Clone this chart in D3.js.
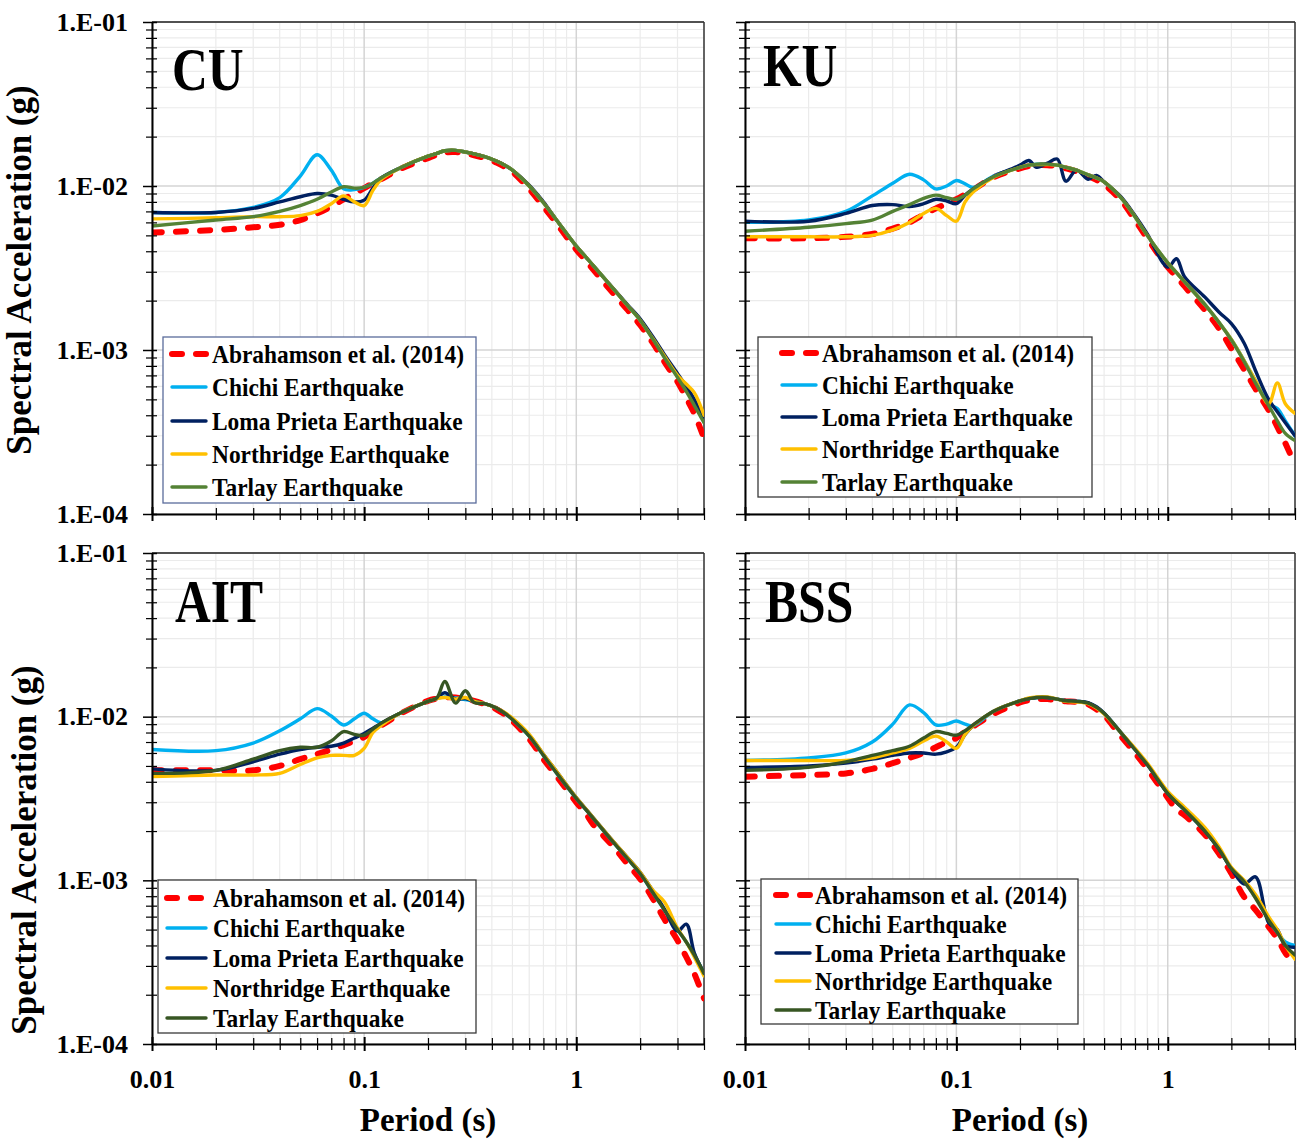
<!DOCTYPE html>
<html><head><meta charset="utf-8">
<script src="https://cdn.jsdelivr.net/npm/d3@7"></script>
<style>
body{margin:0;background:#fff}
svg{display:block}
text{font-family:"Liberation Serif","Times New Roman",serif;font-weight:bold;fill:#000}
</style>
</head><body>
<svg id="chart" width="1301" height="1140"></svg>
<script>
// ---------- DATA ----------
const periods = [0.01,0.02,0.03,0.04,0.05,0.06,0.07,0.08,0.09,0.1,
  0.11,0.12,0.15,0.2,0.22,0.24,0.27,0.3,0.33,0.37,
  0.42,0.46,0.5,0.6,0.7,0.8,1.0,1.1,1.2,1.5,
  1.75,2.0,2.3,2.6,3.0,3.3,3.6,4.0];

const seriesNames = ["Abrahamson et al. (2014)","Chichi Earthquake","Loma Prieta Earthquake","Northridge Earthquake","Tarlay Earthquake"];
const panelNames = ["CU","KU","AIT","BSS"];
const xTickValues = [0.01,0.1,1];
const xTickLabels = ["0.01","0.1","1"];
const yTickValues = [1e-4,1e-3,1e-2,1e-1];
const yTickLabels = ["1.E-04","1.E-03","1.E-02","1.E-01"];
const xMinorValues = [0.02,0.03,0.04,0.05,0.06,0.07,0.08,0.09,0.2,0.3,0.4,0.5,0.6,0.7,0.8,0.9,2,3,4];
const yMinorValues = [2e-4,3e-4,4e-4,5e-4,6e-4,7e-4,8e-4,9e-4,2e-3,3e-3,4e-3,5e-3,6e-3,7e-3,8e-3,9e-3,2e-2,3e-2,4e-2,5e-2,6e-2,7e-2,8e-2,9e-2];
const xAxisTitle = "Period (s)";
const yAxisTitle = "Spectral Acceleration (g)";

// CU
const cuAbrahamson = [.0052,.0054,.0056,.0058,.0062,.0068,.0075,.0083,.0090,.0097,
  .0104,.0110,.0128,.0148,.0155,.0160,.0161,.0158,.0154,.0148,
  .0139,.0131,.0122,.0096,.0075,.0060,.0041,.00355,.0031,.0022,
  .00175,.00142,.0011,.00085,.00064,.00051,.00041,.00029];
const cuChichi = [.0069,.0069,.0074,.0085,.0115,.0155,.0125,.0096,.0095,.0098,
  .0104,.0112,.0130,.0152,.0158,.0164,.0165,.0161,.0157,.0151,
  .0142,.0134,.0125,.0100,.0079,.0063,.0043,.00374,.00328,.00235,
  .00186,.00152,.00117,.00092,.0007,.00057,.00048,.00038];
const cuLoma = [.0069,.0069,.0073,.0080,.0086,.0090,.0088,.0083,.0080,.0082,
  .0097,.0111,.0130,.0152,.0158,.0164,.0165,.0161,.0157,.0151,
  .0142,.0134,.0125,.0101,.0080,.0063,.0043,.00374,.00328,.00236,
  .00188,.00155,.0012,.00094,.00072,.0006,.0005,.00037];
const cuNorthridge = [.0063,.0064,.0065,.0065,.0066,.0070,.0078,.0087,.0080,.0076,
  .0094,.0109,.0130,.0152,.0158,.0164,.0165,.0161,.0157,.0151,
  .0142,.0134,.0125,.0100,.0079,.0063,.0043,.00374,.00328,.00235,
  .00186,.00152,.00117,.00092,.0007,.00062,.00055,.0004];
const cuTarlay = [.0057,.0062,.0065,.0070,.0076,.0083,.0092,.0099,.0097,.0098,
  .0104,.0112,.0130,.0152,.0158,.0164,.0165,.0161,.0157,.0151,
  .0142,.0134,.0125,.0100,.0079,.0063,.0043,.00374,.00328,.00235,
  .00186,.00152,.00116,.0009,.00068,.00056,.00046,.00036];

// KU
const kuAbrahamson = [.0048,.0048,.0049,.0051,.0055,.0060,.0067,.0073,.0078,.0083,
  .0089,.0095,.0113,.0128,.0132,.0134,.0134,.0132,.0128,.0123,
  .0115,.0109,.0102,.0082,.0062,.0048,.0032,.0028,.00245,.00175,
  .00135,.00102,.00076,.00058,.00043,.00034,.00027,.00020];
const kuChichi = [.0060,.0062,.0070,.0087,.0104,.0118,.0109,.0096,.0100,.0108,
  .0103,.0098,.0115,.0130,.0134,.0136,.0136,.0134,.0130,.0125,
  .0117,.0112,.0106,.0085,.0065,.0050,.0034,.00296,.00261,.00189,
  .00147,.00116,.00086,.00065,.00047,.00044,.00037,.0003];
const kuLoma = [.0061,.0061,.0068,.0076,.0077,.0075,.0078,.0083,.0081,.0078,
  .0088,.0096,.0114,.0134,.0143,.0130,.0138,.0146,.0107,.0125,
  .0110,.0116,.0106,.0086,.0066,.0051,.0032,.0036,.0028,.0021,
  .0017,.00145,.0011,.00075,.0005,.00042,.00036,.0003];
const kuNorthridge = [.0049,.0049,.0049,.0050,.0054,.0060,.0068,.0073,.0066,.0061,
  .0080,.0092,.0113,.0130,.0134,.0135,.0135,.0134,.0130,.0125,
  .0117,.0112,.0106,.0085,.0065,.0050,.0034,.00296,.00261,.00189,
  .00147,.00116,.00086,.00065,.00047,.00063,.00047,.00041];
const kuTarlay = [.0053,.0056,.0059,.0062,.0070,.0077,.0084,.0088,.0085,.0083,
  .0088,.0096,.0114,.0130,.0134,.0136,.0136,.0134,.0130,.0125,
  .0117,.0112,.0106,.0085,.0065,.0050,.0034,.00296,.00261,.00189,
  .00147,.00115,.00085,.00063,.00046,.00037,.00031,.00028];

// AIT
const aitAbrahamson = [.0047,.0047,.0047,.0050,.0055,.0059,.0063,.0067,.0071,.0075,
  .0082,.0088,.0105,.0125,.0129,.0131,.0131,.0128,.0125,.0119,
  .0111,.0103,.0094,.0073,.0055,.0044,.0030,.0026,.0022,.0016,
  .00125,.00102,.00077,.00058,.00043,.00034,.00027,.00019];
const aitChichi = [.0063,.0062,.0069,.0082,.0097,.0112,.0101,.0089,.0097,.0105,
  .0097,.0092,.0106,.0124,.0129,.0132,.0130,.0127,.0124,.0120,
  .0113,.0105,.0096,.0076,.0058,.0046,.00317,.00274,.0024,.0017,
  .00135,.0011,.00084,.00066,.0005,.00042,.00035,.00027];
const aitLoma = [.0048,.0047,.0053,.0059,.0063,.0065,.0066,.0069,.0074,.0079,
  .0085,.0091,.0106,.0124,.0130,.0140,.0128,.0129,.0124,.0120,
  .0113,.0105,.0097,.0077,.0059,.0047,.0032,.00276,.00242,.00172,
  .00137,.00112,.00086,.00067,.00049,.00054,.00036,.00027];
const aitNorthridge = [.0043,.0044,.0044,.0045,.0051,.0056,.0058,.0058,.0058,.0064,
  .0080,.0088,.0106,.0124,.0129,.0131,.0128,.0131,.0124,.0120,
  .0113,.0106,.0098,.0078,.0059,.0047,.0032,.00276,.00242,.00172,
  .00137,.00112,.00087,.00074,.00051,.00042,.00034,.00026];
const aitTarlay = [.0045,.0047,.0055,.0062,.0065,.0065,.0071,.0081,.0078,.0077,
  .0084,.0091,.0106,.0124,.0130,.0164,.0121,.0144,.0122,.0120,
  .0113,.0105,.0096,.0076,.0058,.0046,.00317,.00274,.0024,.0017,
  .00135,.0011,.00084,.00066,.0005,.00042,.00035,.00027];

// BSS
const bssAbrahamson = [.0043,.0044,.0045,.0048,.0052,.0056,.0060,.0065,.0070,.0074,
  .0081,.0087,.0104,.0122,.0126,.0128,.0128,.0126,.0124,.0123,
  .0119,.0111,.0102,.0076,.0060,.0048,.0032,.0027,.0025,.0019,
  .00145,.0011,.00079,.00066,.00052,.00044,.00036,.0003];
const bssChichi = [.0054,.0056,.0060,.0070,.0090,.0118,.0106,.0089,.0090,.0094,
  .0090,.0088,.0108,.0125,.0129,.0131,.0131,.0128,.0125,.0124,
  .0121,.0114,.0105,.0080,.0063,.0051,.0034,.0030,.0027,.0020,
  .00155,.00118,.00098,.0008,.00057,.00048,.00042,.0004];
const bssLoma = [.0049,.0050,.0052,.0055,.0058,.0060,.0060,.0059,.0061,.0065,
  .0078,.0088,.0108,.0125,.0129,.0131,.0131,.0128,.0125,.0124,
  .0122,.0115,.0105,.0080,.0063,.0051,.0034,.0030,.0027,.0020,
  .00155,.00118,.00095,.00105,.00055,.0005,.0004,.00039];
const bssNorthridge = [.0054,.0054,.0054,.0056,.0060,.0064,.0071,.0076,.0070,.0064,
  .0078,.0088,.0108,.0125,.0130,.0132,.0132,.0128,.0124,.0123,
  .0120,.0113,.0104,.0080,.0064,.0052,.0035,.0031,.0028,.0021,
  .0016,.0012,.001,.00082,.0006,.0005,.0004,.00033];
const bssTarlay = [.0047,.0049,.0053,.0058,.0062,.0066,.0074,.0081,.0079,.0077,
  .0082,.0089,.0108,.0125,.0129,.0131,.0131,.0128,.0125,.0124,
  .0121,.0114,.0105,.0080,.0063,.0051,.0034,.0030,.0027,.0020,
  .00155,.00118,.00098,.00078,.00057,.00048,.0004,.00035];

const panelSeries = [
  [cuAbrahamson, cuChichi, cuLoma, cuNorthridge, cuTarlay],
  [kuAbrahamson, kuChichi, kuLoma, kuNorthridge, kuTarlay],
  [aitAbrahamson, aitChichi, aitLoma, aitNorthridge, aitTarlay],
  [bssAbrahamson, bssChichi, bssLoma, bssNorthridge, bssTarlay]
];

// ---------- STYLE / LAYOUT ----------
const baseColors = ["#FF0000","#00B0F0","#002060","#FFC000"];
const tarlayColors = ["#548235","#548235","#375623","#375623"];

const layouts = [
  {left:152,right:704,top:22,bottom:514, xLab:false,yLab:true, lab:[172,90],
   leg:{x:163,y:337,w:313,h:166,stroke:"#5A6C9B",l1:172,l2:206,tx:212,rows:[354,387,421,454,487]}},
  {left:745,right:1295,top:22,bottom:514, xLab:false,yLab:false, lab:[763,86],
   leg:{x:758,y:337,w:334,h:160,stroke:"#3a3a3a",l1:782,l2:816,tx:822,rows:[353,385,417,449,482]}},
  {left:152,right:704,top:553,bottom:1044, xLab:true,yLab:true, lab:[175,622],
   leg:{x:158,y:880,w:318,h:153,stroke:"#3a3a3a",l1:167,l2:206,tx:213,rows:[898,928,958,988,1018]}},
  {left:745,right:1295,top:553,bottom:1044, xLab:true,yLab:false, lab:[765,622],
   leg:{x:761,y:879,w:317,h:145,stroke:"#3a3a3a",l1:776,l2:810,tx:815,rows:[895,924,953,981,1010]}}
];

const svg = d3.select("#chart");

layouts.forEach((L, pi) => {
  const x = d3.scaleLog().domain([0.01, 4]).range([L.left, L.right]);
  const y = d3.scaleLog().domain([1e-4, 1e-1]).range([L.bottom, L.top]);
  const g = svg.append("g");
  const colors = baseColors.concat([tarlayColors[pi]]);

  const clipId = "clip" + pi;
  svg.append("clipPath").attr("id", clipId).append("rect")
    .attr("x", L.left).attr("y", L.top).attr("width", L.right - L.left).attr("height", L.bottom - L.top);

  // grid
  const grid = g.append("g");
  grid.selectAll(".vmin").data(xMinorValues).join("line")
    .attr("x1", d => x(d)).attr("x2", d => x(d)).attr("y1", L.top).attr("y2", L.bottom)
    .attr("stroke", "#ebebeb").attr("stroke-width", 1.2);
  grid.selectAll(".hmin").data(yMinorValues).join("line")
    .attr("y1", d => y(d)).attr("y2", d => y(d)).attr("x1", L.left).attr("x2", L.right)
    .attr("stroke", "#ebebeb").attr("stroke-width", 1.2);
  grid.selectAll(".vmaj").data(xTickValues).join("line")
    .attr("x1", d => x(d)).attr("x2", d => x(d)).attr("y1", L.top).attr("y2", L.bottom)
    .attr("stroke", "#d4d4d4").attr("stroke-width", 1.5);
  grid.selectAll(".hmaj").data(yTickValues).join("line")
    .attr("y1", d => y(d)).attr("y2", d => y(d)).attr("x1", L.left).attr("x2", L.right)
    .attr("stroke", "#d4d4d4").attr("stroke-width", 1.5);

  // frame (top / right)
  g.append("line").attr("x1", L.left).attr("x2", L.right).attr("y1", L.top).attr("y2", L.top)
    .attr("stroke", "#222").attr("stroke-width", 1.5);
  g.append("line").attr("x1", L.right).attr("x2", L.right).attr("y1", L.top).attr("y2", L.bottom)
    .attr("stroke", "#333").attr("stroke-width", 1.5);

  // lines
  const line = d3.line().x((d, i) => x(periods[i])).y(d => y(d)).curve(d3.curveCatmullRom.alpha(0.5));
  const lg = g.append("g").attr("clip-path", `url(#${clipId})`);
  panelSeries[pi].forEach((vals, si) => {
    const p = lg.append("path").datum(vals).attr("d", line).attr("fill", "none")
      .attr("stroke", colors[si]).attr("stroke-linejoin", "round");
    if (si === 0) p.attr("stroke-width", 6).attr("stroke-dasharray", "10 14").attr("stroke-linecap", "round");
    else p.attr("stroke-width", 3.4).attr("stroke-linecap", "round");
  });

  // axes
  const yAxis = d3.axisLeft(y).tickValues(yTickValues).tickSize(9).tickSizeOuter(0).tickPadding(15)
    .tickFormat((d, i) => L.yLab ? yTickLabels[i] : "");
  const ya = g.append("g").attr("transform", `translate(${L.left},0)`).call(yAxis);
  ya.selectAll(".tick line").attr("x1", 5).attr("stroke", "#000").attr("stroke-width", 1.5);
  ya.select(".domain").attr("stroke", "#000").attr("stroke-width", 2);
  ya.selectAll("text").attr("font-size", 26).attr("font-family", "Liberation Serif, serif").attr("font-weight", "bold").attr("fill", "#000");
  const yMinor = d3.axisLeft(y).tickValues(yMinorValues).tickSize(6).tickSizeOuter(0).tickFormat("");
  const yam = g.append("g").attr("transform", `translate(${L.left},0)`).call(yMinor);
  yam.selectAll(".tick line").attr("x1", 5).attr("stroke", "#000").attr("stroke-width", 1.2);
  yam.select(".domain").remove();

  const xAxis = d3.axisBottom(x).tickValues(xTickValues).tickSize(7).tickSizeOuter(0).tickPadding(19)
    .tickFormat((d, i) => L.xLab ? xTickLabels[i] : "");
  const xa = g.append("g").attr("transform", `translate(0,${L.bottom})`).call(xAxis);
  xa.selectAll(".tick line").attr("y1", -7).attr("stroke", "#000").attr("stroke-width", 2);
  xa.select(".domain").attr("stroke", "#000").attr("stroke-width", 2);
  xa.selectAll("text").attr("font-size", 26).attr("font-family", "Liberation Serif, serif").attr("font-weight", "bold").attr("fill", "#000");
  const xMinor = d3.axisBottom(x).tickValues(xMinorValues).tickSize(6).tickSizeOuter(0).tickFormat("");
  const xam = g.append("g").attr("transform", `translate(0,${L.bottom})`).call(xMinor);
  xam.selectAll(".tick line").attr("y1", -6).attr("stroke", "#000").attr("stroke-width", 1.2);
  xam.select(".domain").remove();

  // panel label
  g.append("text").attr("transform", `translate(${L.lab[0]},${L.lab[1]}) scale(0.8,1)`)
    .attr("font-size", 62).text(panelNames[pi]);

  // legend
  const lgd = g.append("g");
  lgd.append("rect").attr("x", L.leg.x).attr("y", L.leg.y).attr("width", L.leg.w).attr("height", L.leg.h)
    .attr("fill", "#fff").attr("stroke", L.leg.stroke).attr("stroke-width", 1.3);
  seriesNames.forEach((name, si) => {
    const ry = L.leg.rows[si];
    const ln = lgd.append("line").attr("x1", L.leg.l1).attr("x2", L.leg.l2).attr("y1", ry).attr("y2", ry)
      .attr("stroke", colors[si]).attr("stroke-linecap", "round");
    if (si === 0) ln.attr("stroke-width", 6).attr("stroke-dasharray", "10 14");
    else ln.attr("stroke-width", 3.4);
    lgd.append("text").attr("transform", `translate(${L.leg.tx},${ry}) scale(0.9,1)`)
      .attr("dy", "0.34em").attr("font-size", 26).text(name);
  });
});

// axis titles
svg.append("text").attr("x", 428).attr("y", 1131).attr("text-anchor", "middle").attr("font-size", 33).text(xAxisTitle);
svg.append("text").attr("x", 1020).attr("y", 1131).attr("text-anchor", "middle").attr("font-size", 33).text(xAxisTitle);
svg.append("text").attr("transform", "translate(31,270) rotate(-90)").attr("text-anchor", "middle").attr("font-size", 35).text(yAxisTitle);
svg.append("text").attr("transform", "translate(36,850) rotate(-90)").attr("text-anchor", "middle").attr("font-size", 35).text(yAxisTitle);
</script>
</body></html>
